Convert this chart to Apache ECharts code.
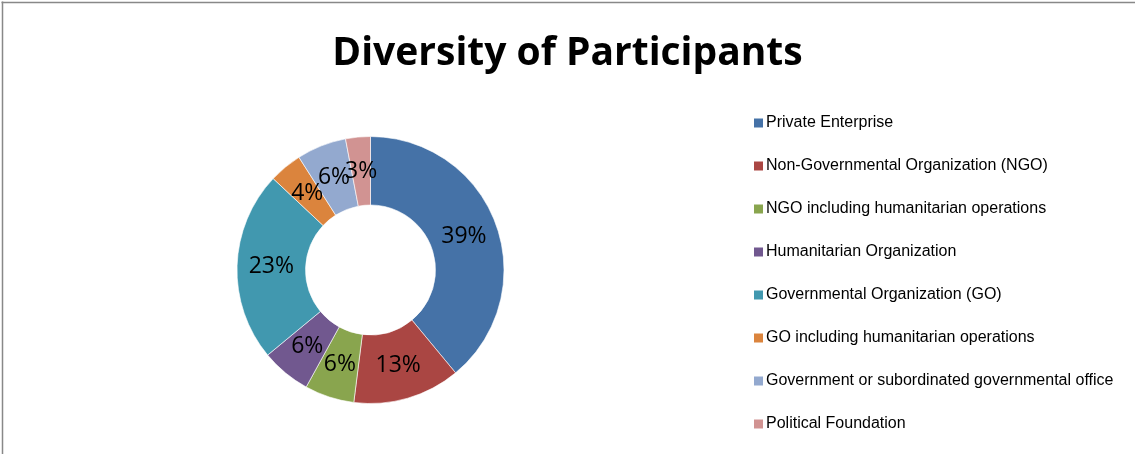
<!DOCTYPE html>
<html>
<head>
<meta charset="utf-8">
<script src="https://cdn.jsdelivr.net/npm/echarts@6/dist/echarts.min.js"></script>
<style>
  html, body { margin: 0; padding: 0; background: #fff; }
  #chart { width: 1135px; height: 454px; }
</style>
</head>
<body>
<div id="chart"></div>
<script>
// Participant groups and their share (%) of all participants
const categories = [
  'Private Enterprise',
  'Non-Governmental Organization (NGO)',
  'NGO including humanitarian operations',
  'Humanitarian Organization',
  'Governmental Organization (GO)',
  'GO including humanitarian operations',
  'Government or subordinated governmental office',
  'Political Foundation'
];
const shares = [39, 13, 6, 6, 23, 4, 6, 3];
const palette = ['#4572A7', '#AA4643', '#89A54E', '#71588F', '#4198AF', '#DB843D', '#93A9CF', '#D19392'];

const total = shares.reduce((a, b) => a + b, 0);

const chart = echarts.init(document.getElementById('chart'), null, { renderer: 'canvas' });

// The ring is a stacked polar bar: one band on the radius axis,
// each group takes its share of the full circle on the angle axis.
const ringSeries = categories.map((name, i) => ({
  type: 'bar',
  name,
  coordinateSystem: 'polar',
  stack: 'ring',
  barWidth: '100%',
  data: [shares[i]],
  itemStyle: { color: palette[i], borderColor: '#fff', borderWidth: 0.6 },
  label: {
    show: true,
    position: 'middle',
    rotate: 0,
    formatter: p => Math.round(p.value / total * 100) + '%',
    fontFamily: 'Open Sans',
    fontSize: 23,
    color: '#000'
  },
  emphasis: { disabled: true },
  silent: true
}));

chart.setOption({
  backgroundColor: '#fff',
  animation: false,
  color: palette,
  title: {
    text: 'Diversity of Participants',
    left: 'center',
    top: 29,
    textStyle: {
      fontFamily: 'Open Sans',
      fontWeight: 'bold',
      fontSize: 39,
      color: '#000'
    }
  },
  legend: {
    orient: 'vertical',
    left: 749,
    top: 110,
    itemWidth: 9,
    itemHeight: 9,
    itemGap: 27,
    icon: 'rect',
    selectedMode: false,
    itemStyle: { borderWidth: 0 },
    textStyle: {
      fontFamily: 'Liberation Sans',
      fontSize: 16,
      lineHeight: 16,
      color: '#000',
      padding: [0, 0, 0, -2]
    },
    data: categories
  },
  polar: {
    center: [370.5, 270],
    radius: [65, 133.5]
  },
  angleAxis: {
    type: 'value',
    min: 0,
    max: total,
    startAngle: 90,
    clockwise: true,
    show: false
  },
  radiusAxis: {
    type: 'category',
    data: ['participants'],
    show: false
  },
  graphic: [
    { type: 'line', shape: { x1: 1.5, y1: 2.5, x2: 1135, y2: 2.5 }, style: { stroke: '#888', lineWidth: 1.5 }, silent: true },
    { type: 'line', shape: { x1: 2.5, y1: 1.5, x2: 2.5, y2: 454 }, style: { stroke: '#888', lineWidth: 1.5 }, silent: true }
  ],
  series: ringSeries
});
</script>
</body>
</html>
